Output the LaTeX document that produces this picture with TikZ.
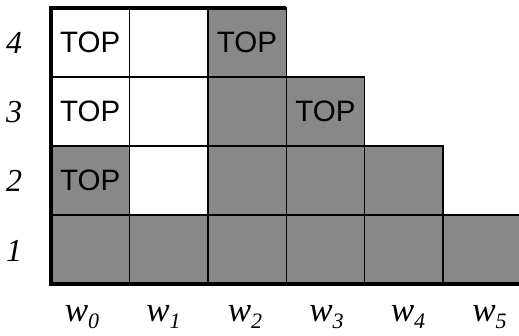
\documentclass[tikz,border=0pt]{standalone}
\usepackage{fontspec}
\setmainfont{Liberation Serif}
\newfontfamily\cellfont{Liberation Sans}
\begin{document}
\begin{tikzpicture}[x=1pt,y=1pt,
  cell/.style={draw=black, line width=1.4pt, minimum width=78.4pt, minimum height=69pt,
    inner sep=0pt, outer sep=0pt, font=\cellfont\fontsize{29.5}{29.5}\selectfont},
  shaded/.style={fill=grayfill},
  rowlabel/.style={anchor=base, inner sep=0pt, font=\itshape\fontsize{32}{32}\selectfont},
  collabel/.style={anchor=base, inner sep=0pt, font=\itshape\fontsize{35}{35}\selectfont},
  axis/.style={line width=3.6pt, line join=miter}]
\definecolor{grayfill}{HTML}{888888}
\useasboundingbox (0,0) rectangle (519,335);
\newcommand{\subidx}[1]{\raisebox{-0.2em}{\fontsize{22}{22}\selectfont #1}}

% the stacked cells: column, row, fill, text
\foreach \c/\r/\s/\t in {
    0/1/shaded/, 0/2/shaded/TOP, 0/3//TOP, 0/4//TOP,
    1/1/shaded/, 1/2//, 1/3//, 1/4//,
    2/1/shaded/, 2/2/shaded/, 2/3/shaded/, 2/4/shaded/TOP,
    3/1/shaded/, 3/2/shaded/, 3/3/shaded/TOP,
    4/1/shaded/, 4/2/shaded/,
    5/1/shaded/}
  \node[cell, \s] (c\c\r) at ({51+78.4*(\c+0.5)}, {51+69*(\r-0.5)}) {\t};

% axes and top edge
\draw[axis] (c24.north east) -- (c04.north west) -- (c01.south west) -- (c51.south east);

% row numbers
\foreach \r in {1,2,3,4}
  \node[rowlabel] (row\r) at (14, {51+69*(\r-0.5)-11.5}) {\r};

% column names
\foreach \c in {0,...,5}
  \node[collabel] (col\c) at ({82+81.5*\c}, 13.5) {w\subidx{\c}};
\end{tikzpicture}
\end{document}
